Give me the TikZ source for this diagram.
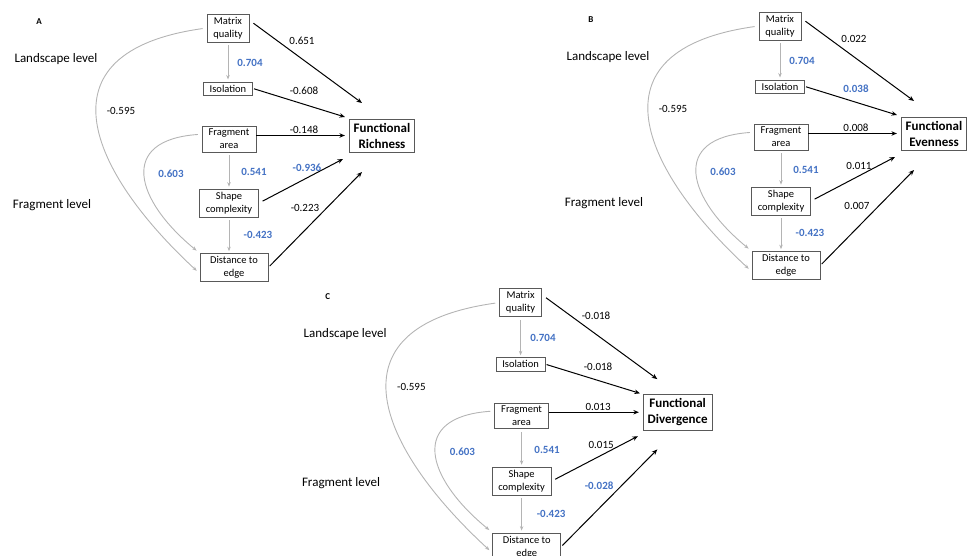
\documentclass[tikz,border=0pt]{standalone}
\usepackage{fontspec}
\setmainfont{Carlito}
\usetikzlibrary{arrows.meta}

\definecolor{semblue}{RGB}{68,114,196}
\definecolor{linkgray}{RGB}{180,180,180}
\newcommand{\cb}[1]{\textcolor{semblue}{\bfseries #1}}

\tikzset{
  var/.style={draw=black!65, line width=0.6pt, align=center, inner xsep=6.5pt, inner ysep=3pt,
              font=\fontsize{10.5}{13}\selectfont},
  outcome/.style={draw=black!65, line width=0.7pt, align=center, inner xsep=4.5pt, inner ysep=4pt,
                  font=\fontsize{13}{16}\selectfont\bfseries},
  coef/.style={font=\fontsize{11}{13}\selectfont, inner sep=1pt},
  levellabel/.style={font=\fontsize{13}{15}\selectfont},
  paneltag/.style={font=\fontsize{9}{10}\selectfont\bfseries},
  effect/.style={-{Stealth[length=5.5pt,width=4.5pt]}, line width=1pt},
  link/.style={-{Stealth[length=4.5pt,width=3.5pt]}, draw=linkgray, line width=0.9pt}
}

% #1 tag, #2 #3 outcome, #4-#8 coefficients of matrix, isolation, area, shape, distance
\newcommand{\sempanel}[8]{
  \node[paneltag] (tag) at (39,22) {#1};
  \node[levellabel] (land) at (56,59) {Landscape level};
  \node[levellabel] (fraglev) at (52,205) {Fragment level};

  \node[var] (mq) at (228,28) {Matrix\\quality};
  \node[var] (iso) at (228,88.5) {Isolation};
  \node[var] (fa) at (229,139) {Fragment\\area};
  \node[var] (sc) at (229,203) {Shape\\complexity};
  \node[var, minimum width=68pt] (de) at (234,267.5) {Distance to\\edge};
  \node[outcome] (out) at (382,135.5) {#2\\#3};

  \coordinate (tmq) at (362,103);
  \coordinate (tiso) at (345,117);
  \coordinate (tsc) at (343,159);
  \coordinate (tde) at (362,172);

  % paths among predictors
  \draw[link, shorten <=3pt, shorten >=2pt] (mq.south) -- (iso.north);
  \draw[link, shorten <=3pt, shorten >=2pt] (fa.south) -- (sc.north);
  \draw[link, shorten <=3pt, shorten >=2pt] (sc.south) -- (sc.south |- de.north);
  \draw[link, shorten <=4pt, shorten >=4pt] (mq.west) .. controls (35,52) and (90,172) .. (de.190);
  \draw[link, shorten <=4pt, shorten >=4pt] (fa.170) .. controls (118,140) and (135,200) .. (de.north west);

  \node[coef] (c-mqiso) at (250,63) {\cb{0.704}};
  \node[coef] (c-fasc) at (254,172) {\cb{0.541}};
  \node[coef] (c-scde) at (258,235) {\cb{-0.423}};
  \node[coef] (c-fade) at (171,174) {\cb{0.603}};
  \node[coef] (c-mqde) at (121,111) {-0.595};

  % paths to the outcome
  \draw[effect, shorten <=5pt] (mq.20) -- (tmq);
  \draw[effect, shorten <=1pt] (iso.east) -- (tiso);
  \draw[effect, shorten >=4pt] (fa.east |- out.west) -- (out.west);
  \draw[effect, shorten <=4pt] (sc.east) -- (tsc);
  \draw[effect, shorten <=2pt] (de.east) -- (tde);

  \node[coef] (c-mq) at (302,41) {#4};
  \node[coef] (c-iso) at (304,91) {#5};
  \node[coef] (c-fa) at (304,130) {#6};
  \node[coef] (c-sc) at (307,168) {#7};
  \node[coef] (c-de) at (305,208) {#8};
}

\begin{document}
\begin{tikzpicture}[x=1pt, y=-1pt]
  \useasboundingbox (0,0) rectangle (974,556);

  \begin{scope}
    \sempanel{A}{Functional}{Richness}{0.651}{-0.608}{-0.148}{\cb{-0.936}}{-0.223}
  \end{scope}

  \begin{scope}[shift={(552,-2)}]
    \sempanel{B}{Functional}{Evenness}{0.022}{\cb{0.038}}{0.008}{0.011}{0.007}
  \end{scope}

  \begin{scope}[shift={(288,274)}, scale=1.02]
    \sempanel{C}{Functional}{Divergence}{-0.018}{-0.018}{0.013}{0.015}{\cb{-0.028}}
  \end{scope}
\end{tikzpicture}
\end{document}
